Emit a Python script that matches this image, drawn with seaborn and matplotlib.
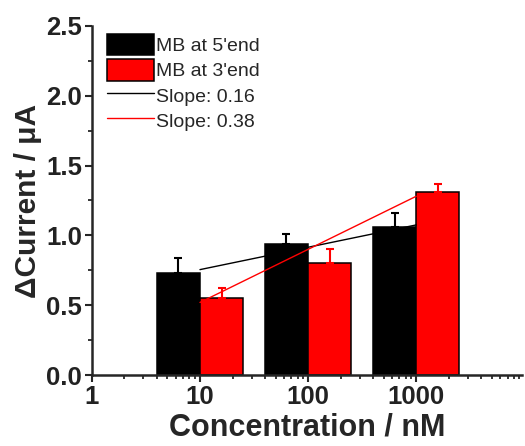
import numpy as np
import pandas as pd
import matplotlib
matplotlib.use("Agg")
import matplotlib.pyplot as plt
import seaborn as sns
from matplotlib.patches import Patch
from matplotlib.lines import Line2D
from matplotlib.ticker import MultipleLocator, LogLocator, NullFormatter

# datos
concentrations = [10, 100, 1000]
series_names = ["MB at 5'end", "MB at 3'end"]
current_5end = [0.73, 0.94, 1.06]
current_3end = [0.55, 0.80, 1.31]
err_5end = [0.11, 0.07, 0.10]
err_3end = [0.07, 0.10, 0.06]
fit_x = [10, 1000]
fit_5end = [0.755, 1.075]
fit_3end = [0.52, 1.28]
slope_labels = ["Slope: 0.16", "Slope: 0.38"]
colors = ["black", "red"]

df = pd.DataFrame({
    "conc": concentrations * 2,
    "current": current_5end + current_3end,
    "probe": [series_names[0]] * 3 + [series_names[1]] * 3,
})

sns.set_style("ticks")
plt.rcParams["font.family"] = ["Liberation Sans", "DejaVu Sans"]

fig = plt.figure(figsize=(5.25, 4.46), dpi=100)
ax = fig.add_axes([0.175, 0.159, 0.819, 0.783])

sns.barplot(data=df, x="conc", y="current", hue="probe", hue_order=series_names,
            palette=colors, native_scale=True, log_scale=(10, False),
            errorbar=None, saturation=1, edgecolor="black", linewidth=1.1,
            legend=False, ax=ax, zorder=2)

# barras de error solo hacia arriba
for container, errs, c in zip(ax.containers, [err_5end, err_3end], colors):
    for bar, e in zip(container, errs):
        x0 = bar.get_x()
        xc = np.sqrt(x0 * (x0 + bar.get_width()))
        ax.errorbar(xc, bar.get_height(), yerr=[[0], [e]], color=c, lw=1.5,
                    capsize=3, capthick=1.5, zorder=3)

# rectas de ajuste
sns.lineplot(x=fit_x, y=fit_5end, color="black", lw=1, ax=ax, zorder=4)
sns.lineplot(x=fit_x, y=fit_3end, color="red", lw=1, ax=ax, zorder=4)

ax.set_xscale("log")
ax.set_xlim(1, 9500)
ax.set_ylim(0, 2.5)
ax.yaxis.set_minor_locator(MultipleLocator(0.25))
ax.xaxis.set_minor_locator(LogLocator(base=10, subs=np.arange(2, 10), numticks=20))
ax.xaxis.set_minor_formatter(NullFormatter())
ax.set_xticks([1, 10, 100, 1000])
ax.set_xticklabels(["1", "10", "100", "1000"])
ax.set_yticks([0, 0.5, 1.0, 1.5, 2.0, 2.5])
ax.set_yticklabels(["0.0", "0.5", "1.0", "1.5", "2.0", "2.5"])

sns.despine(ax=ax)
for s in ["left", "bottom"]:
    ax.spines[s].set_linewidth(1.8)
ax.tick_params(which="major", direction="out", length=5, width=1.5,
               labelsize=18.5, labelcolor="#222222", pad=2)
ax.tick_params(which="minor", direction="out", length=3, width=1.3)
for lab in ax.get_xticklabels() + ax.get_yticklabels():
    lab.set_fontweight("bold")

ax.set_xlabel("Concentration / nM", fontsize=22, fontweight="bold", labelpad=3)
ax.set_ylabel("ΔCurrent / μA", fontsize=21.5, fontweight="bold", labelpad=3)

handles = [
    Patch(facecolor="black", edgecolor="black", linewidth=1.1),
    Patch(facecolor="red", edgecolor="black", linewidth=1.1),
    Line2D([], [], color="black", lw=1),
    Line2D([], [], color="red", lw=1),
]
fig.legend(handles, series_names + slope_labels, loc="upper left",
           bbox_to_anchor=(0.185, 0.945), frameon=False, fontsize=14,
           handlelength=2.4, handleheight=1.3, handletextpad=0.15,
           labelspacing=0.2, borderpad=0)

fig.savefig("out.png", dpi=100)
